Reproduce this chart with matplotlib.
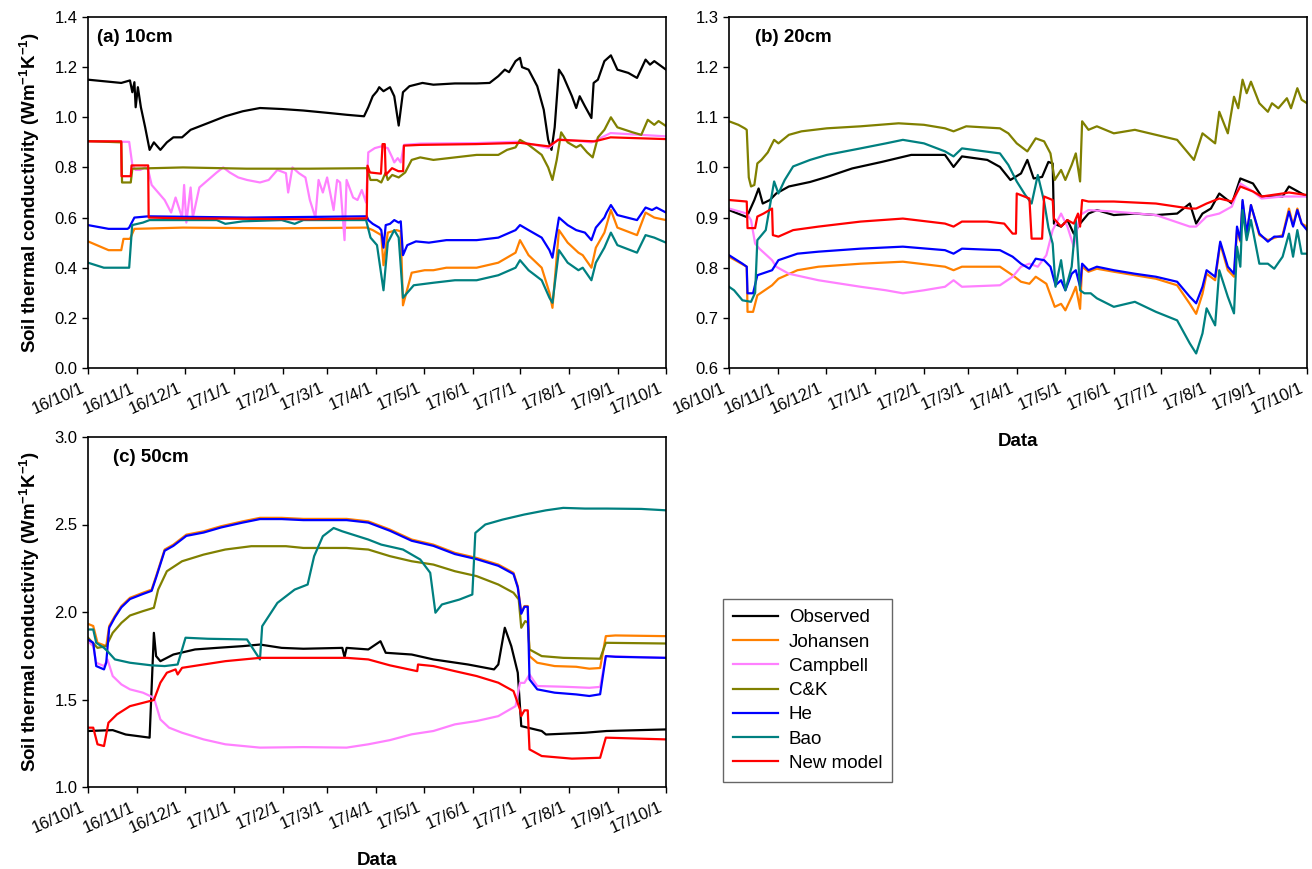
import numpy as np
import matplotlib
matplotlib.use("Agg")
import matplotlib.pyplot as plt
import matplotlib.dates as mdates
from matplotlib.transforms import ScaledTranslation
from datetime import datetime, timedelta

plt.rcParams['font.family'] = ['Liberation Sans', 'DejaVu Sans']
plt.rcParams['mathtext.fontset'] = 'custom'
plt.rcParams['mathtext.rm'] = 'Liberation Sans'
plt.rcParams['mathtext.bf'] = 'Liberation Sans:bold'

# days counted from 2016-10-01, values in W m-1 K-1
models = ["Observed", "Johansen", "Campbell", "C&K", "He", "Bao", "New model"]
colors = ["#000000", "#FF8000", "#FF80FF", "#808000", "#0000FF", "#008080", "#FF0000"]

# ---- (a) 10cm
obs_10 = [(0,1.15),(21,1.137),(26.5,1.147),(28,1.10),(29.3,1.14),(30.1,1.04),(31.5,1.12),(33.4,1.04),
          (36.1,0.96),(38.9,0.87),(41.6,0.90),(45.7,0.87),(49.8,0.90),(53.9,0.92),(59.4,0.92),(64.8,0.95),
          (75.8,0.977),(86.7,1.004),(97.7,1.024),(108.6,1.037),(122.3,1.033),(136,1.027),(152.4,1.017),
          (163.3,1.01),(174.3,1.004),(177,1.04),(179.8,1.084),(182.5,1.104),(183.9,1.12),(186.6,1.104),
          (190.7,1.12),(193.4,1.084),(196.2,0.967),(198.9,1.10),(203,1.124),(211.2,1.137),(218.1,1.13),
          (231.7,1.135),(245.4,1.135),(253.6,1.137),(259.1,1.164),(263.2,1.19),(265.9,1.18),(270,1.224),
          (272.8,1.237),(274.1,1.20),(278.2,1.19),(283.7,1.124),(287.8,1.03),(290.6,0.91),(292.7,0.87),
          (294.7,0.96),(297.4,1.19),(300.1,1.164),(305.6,1.084),(308.3,1.037),(310.5,1.084),(313.8,1.044),
          (317.9,0.997),(319.3,1.137),(322,1.15),(326.1,1.224),(330.2,1.247),(334.3,1.19),(341.2,1.177),
          (346.7,1.157),(352.1,1.23),(354.9,1.21),(357.6,1.224),(365,1.19)]
joh_10 = [(0,0.505),(13,0.47),(21,0.47),(22.4,0.515),(26.5,0.515),(29.3,0.555),(60,0.56),(120,0.557),
          (176,0.56),(179.8,0.55),(183.9,0.535),(185.2,0.53),(186.6,0.41),(189.3,0.54),(194.8,0.55),
          (197.5,0.545),(198.9,0.25),(204.4,0.38),(212.6,0.39),(218.1,0.39),(226.3,0.40),(245.4,0.40),
          (259.1,0.42),(270,0.46),(272.8,0.51),(278.2,0.45),(286.5,0.40),(291.4,0.30),(293.3,0.24),
          (297.4,0.55),(302.9,0.50),(309.7,0.46),(312.4,0.45),(317.9,0.40),(320.7,0.48),(326.1,0.54),
          (330.2,0.63),(334.3,0.56),(346.7,0.53),(352.1,0.62),(357.6,0.60),(365,0.59)]
camp_10 = [(0,0.905),(26,0.902),(28,0.81),(30,0.79),(33,0.79),(36,0.80),(38,0.79),(40.2,0.73),(48.4,0.67),
           (52.5,0.62),(55.3,0.68),(59.4,0.60),(60.7,0.73),(62.1,0.58),(64.8,0.72),(66.2,0.60),(70.3,0.72),
           (75.8,0.75),(81.3,0.78),(85.4,0.80),(89.5,0.78),(94.9,0.76),(100.4,0.75),(108.6,0.74),
           (114.1,0.75),(119.6,0.79),(125,0.777),(126.4,0.70),(129.1,0.80),(133.2,0.777),(137.3,0.76),
           (140.1,0.67),(143.6,0.60),(145.6,0.75),(148.3,0.70),(151,0.76),(155.1,0.63),(157.3,0.75),
           (159.2,0.74),(162,0.51),(163.3,0.75),(167.4,0.68),(170.2,0.67),(172.9,0.71),(175.6,0.66),
           (177,0.86),(181.1,0.877),(185.2,0.884),(189.3,0.877),(192.1,0.84),(193.4,0.82),(195.6,0.837),
           (197.5,0.82),(199.5,0.89),(210,0.895),(245,0.897),(273,0.903),(291,0.877),(297,0.913),
           (318,0.90),(330,0.937),(365,0.924)]
ck_10 = [(0,0.905),(21,0.90),(21.5,0.74),(27,0.74),(28,0.795),(60,0.80),(100,0.795),(140,0.795),
         (176,0.797),(178.4,0.75),(182.5,0.75),(185.2,0.74),(188,0.78),(189.3,0.75),(192.1,0.77),
         (196.2,0.76),(200.3,0.78),(204.4,0.83),(209.8,0.84),(218.1,0.83),(231.7,0.84),(245.4,0.85),
         (259.1,0.85),(264.6,0.87),(270,0.88),(272.8,0.91),(278.2,0.89),(286.5,0.85),(290.6,0.80),
         (293.3,0.75),(296,0.83),(298.8,0.94),(302.9,0.90),(308.3,0.88),(311.1,0.89),(315.2,0.86),
         (318.7,0.84),(322,0.92),(326.1,0.95),(330.2,1.00),(334.3,0.96),(343.9,0.94),(349.4,0.93),
         (353.5,0.99),(357.6,0.97),(360.3,0.985),(365,0.965)]
he_10 = [(0,0.57),(13,0.555),(25,0.555),(26,0.56),(29.3,0.60),(38,0.605),(100,0.60),(176,0.605),(177,0.59),
         (179.8,0.575),(183.9,0.56),(185.2,0.55),(186.6,0.48),(188,0.57),(190.7,0.575),(193.4,0.59),
         (196.2,0.58),(197.5,0.585),(198.9,0.45),(201.6,0.49),(207.1,0.505),(215.3,0.50),(226.3,0.51),
         (245.4,0.51),(259.1,0.52),(270,0.55),(272.8,0.57),(278.2,0.55),(286.5,0.52),(291.4,0.47),
         (293.3,0.44),(297.4,0.60),(302.9,0.57),(308.3,0.55),(313.8,0.54),(317.9,0.51),(320.7,0.56),
         (326.1,0.60),(327.5,0.62),(330.2,0.65),(334.3,0.61),(346.7,0.59),(352.1,0.64),(356.2,0.63),
         (359,0.64),(365,0.62)]
bao_10 = [(0,0.42),(10,0.40),(26,0.40),(27.9,0.57),(34.7,0.58),(38.9,0.59),(81.3,0.59),(86.7,0.575),
          (97.7,0.585),(122.3,0.59),(130.5,0.575),(136,0.59),(175.6,0.59),(178.4,0.52),(182.5,0.49),
          (186.6,0.31),(189.3,0.50),(193.4,0.55),(196.2,0.52),(198.9,0.28),(205.7,0.33),(218.1,0.34),
          (231.7,0.35),(245.4,0.35),(259.1,0.37),(270,0.40),(272.8,0.43),(278.2,0.39),(286.5,0.35),
          (291.4,0.28),(293.3,0.26),(297.4,0.47),(302.9,0.42),(309.7,0.39),(312.4,0.40),(317.9,0.35),
          (320.7,0.42),(326.1,0.48),(330.2,0.54),(334.3,0.49),(346.7,0.46),(352.1,0.53),(357.6,0.52),
          (365,0.50)]
new_10 = [(0,0.904),(21,0.904),(21.2,0.765),(27,0.765),(27.5,0.808),(38,0.808),(38.3,0.60),(60,0.597),
          (100,0.595),(140,0.593),(176,0.597),(176.5,0.807),(178,0.78),(185,0.775),(186,0.893),
          (187.4,0.893),(188,0.77),(192,0.797),(196,0.785),(199,0.785),(199.5,0.887),(210,0.89),
          (245,0.893),(273,0.898),(291,0.884),(297,0.91),(320,0.904),(330,0.92),(365,0.913)]

# ---- (b) 20cm
obs_20 = [(0,0.915),(11.2,0.901),(16,0.935),(18.7,0.958),(21.3,0.928),(25.8,0.935),(29.8,0.948),
          (37.8,0.962),(51.2,0.971),(61.8,0.981),(77.8,0.998),(96.5,1.011),(115.1,1.025),(136.4,1.025),
          (141.8,1.001),(147.1,1.022),(163.1,1.015),(171.1,1.001),(177.7,0.975),(184.4,0.988),
          (188.4,1.015),(192.4,0.978),(197.7,0.981),(201.7,1.011),(204.4,1.008),(205.2,0.888),
          (209.7,0.882),(213.7,0.895),(217.7,0.868),(221.7,0.888),(227,0.908),(232.3,0.915),(243,0.905),
          (256.3,0.908),(269.6,0.905),(283,0.908),(291,0.928),(295,0.888),(299,0.908),(304.3,0.918),
          (309.6,0.948),(317.6,0.928),(322.9,0.978),(330.9,0.968),(336.3,0.942),(349.6,0.942),
          (353.6,0.962),(365,0.942)]
joh_20 = [(0,0.822),(11.2,0.802),(11.7,0.712),(15.2,0.712),(17.9,0.745),(27.2,0.765),(31.2,0.778),
          (43.2,0.795),(56.5,0.802),(83.1,0.808),(109.8,0.812),(136.4,0.802),(141.8,0.795),(147.1,0.802),
          (171.1,0.802),(179.1,0.785),(184.4,0.772),(189.7,0.768),(193.7,0.782),(200.4,0.768),
          (205.7,0.722),(209.7,0.728),(212.4,0.715),(216.4,0.742),(219,0.762),(221.7,0.718),(223,0.802),
          (227,0.792),(232.3,0.798),(243,0.792),(256.3,0.785),(269.6,0.778),(283,0.765),(291,0.728),
          (295,0.708),(299,0.748),(301.6,0.788),(307,0.775),(310.2,0.848),(315,0.795),(318.9,0.782),
          (320.8,0.875),(322.9,0.852),(324.3,0.932),(326.9,0.865),(329.6,0.925),(334.9,0.865),
          (340.3,0.855),(349.6,0.865),(353.6,0.918),(356.2,0.885),(358.9,0.918),(361.6,0.888),(365,0.882)]
camp_20 = [(0,0.918),(11.2,0.908),(13.9,0.895),(16.5,0.848),(19.2,0.838),(27.2,0.815),(29.8,0.802),
           (37.8,0.788),(56.5,0.775),(83.1,0.762),(99.1,0.755),(109.8,0.749),(123.1,0.755),(136.4,0.762),
           (141.8,0.775),(147.1,0.762),(171.1,0.765),(179.1,0.782),(184.4,0.802),(189.7,0.808),
           (195,0.802),(200.4,0.825),(204.4,0.875),(209.7,0.908),(213.7,0.882),(217.7,0.842),
           (221.7,0.905),(227,0.915),(243,0.912),(269.6,0.905),(291,0.882),(295,0.882),(301.6,0.902),
           (309.6,0.908),(317.6,0.922),(322.9,0.968),(330.9,0.952),(336.3,0.938),(349.6,0.942),(365,0.942)]
ck_20 = [(0,1.092),(5.9,1.085),(9.9,1.078),(11.2,1.075),(12.5,0.98),(13.9,0.962),(16,0.965),(17.9,1.008),
         (20.5,1.015),(24.5,1.03),(28.5,1.055),(31.2,1.048),(37.8,1.065),(45.8,1.072),(61.8,1.078),
         (83.1,1.082),(107.1,1.088),(123.1,1.085),(136.4,1.078),(141.8,1.072),(149.8,1.082),(171.1,1.078),
         (176.4,1.068),(181.7,1.048),(188.4,1.032),(193.7,1.058),(199,1.052),(203,1.028),(205.7,0.975),
         (209.7,0.995),(212.4,0.975),(216.4,1.005),(219,1.028),(221.7,0.972),(223,1.092),(227,1.075),
         (232.3,1.082),(243,1.068),(256.3,1.075),(269.6,1.065),(283,1.055),(293.6,1.015),(299,1.068),
         (307,1.048),(309.6,1.111),(315,1.068),(318.9,1.141),(321.6,1.118),(324.3,1.175),(326.9,1.148),
         (329.6,1.171),(334.9,1.128),(340.3,1.111),(342.9,1.128),(346.9,1.118),(352.3,1.138),
         (354.9,1.118),(358.9,1.158),(361.6,1.135),(365,1.128)]
he_20 = [(0,0.825),(8.5,0.808),(11.2,0.802),(11.7,0.749),(15.2,0.749),(17.9,0.785),(27.2,0.795),
         (31.2,0.815),(43.2,0.828),(56.5,0.832),(83.1,0.838),(109.8,0.842),(136.4,0.835),(141.8,0.828),
         (147.1,0.838),(171.1,0.835),(179.1,0.822),(184.4,0.808),(189.7,0.798),(193.7,0.818),(199,0.815),
         (203,0.802),(206.2,0.765),(209.7,0.775),(212.4,0.755),(216.4,0.788),(219,0.795),(221.7,0.762),
         (223,0.808),(227,0.795),(232.3,0.802),(243,0.795),(256.3,0.788),(269.6,0.782),(283,0.772),
         (291,0.742),(295,0.729),(299,0.762),(301.6,0.795),(307,0.782),(310.2,0.852),(315,0.802),
         (318.9,0.788),(320.8,0.882),(322.9,0.855),(324.3,0.935),(326.9,0.868),(329.6,0.925),
         (334.9,0.868),(340.3,0.852),(344.3,0.862),(349.6,0.862),(353.6,0.912),(356.2,0.882),
         (358.9,0.915),(361.6,0.888),(365,0.875)]
bao_20 = [(0,0.762),(3.2,0.755),(8.5,0.735),(13.9,0.732),(16.5,0.75),(17.9,0.855),(23.2,0.875),
          (28.5,0.972),(31.2,0.948),(35.2,0.975),(40.5,1.002),(51.2,1.015),(61.8,1.025),(83.1,1.038),
          (99.1,1.048),(109.8,1.055),(123.1,1.048),(136.4,1.032),(141.8,1.022),(147.1,1.038),
          (171.1,1.028),(176.4,1.005),(181.7,0.972),(187.1,0.945),(191.1,0.928),(195,0.985),(199,0.932),
          (201.7,0.88),(204.4,0.848),(206.2,0.762),(209.7,0.815),(212.4,0.755),(216.4,0.802),(219,0.895),
          (221.7,0.755),(224.4,0.749),(228.4,0.749),(232.3,0.739),(243,0.722),(256.3,0.732),(269.6,0.712),
          (283,0.695),(291,0.649),(295,0.629),(299,0.669),(301.6,0.719),(307,0.685),(309.6,0.795),
          (315,0.742),(318.9,0.709),(320.8,0.842),(322.9,0.802),(324.3,0.915),(326.9,0.855),(329.6,0.895),
          (334.9,0.808),(340.3,0.808),(344.3,0.798),(349.6,0.822),(353.6,0.868),(356.2,0.822),
          (358.9,0.875),(361.6,0.828),(365,0.828)]
new_20 = [(0,0.935),(11.2,0.932),(11.7,0.879),(16.5,0.879),(17.9,0.902),(21.8,0.908),(27.2,0.918),
          (27.7,0.865),(31.2,0.862),(40.5,0.875),(56.5,0.882),(83.1,0.892),(109.8,0.898),(136.4,0.888),
          (141.8,0.882),(147.1,0.892),(163.1,0.892),(173.8,0.888),(179.1,0.868),(181.2,0.868),
          (181.7,0.948),(189.7,0.938),(191.1,0.858),(197.7,0.858),(199,0.942),(204.4,0.935),(205.2,0.898),
          (209.7,0.882),(213.7,0.895),(217.7,0.888),(220.4,0.908),(221.7,0.882),(223,0.935),(227,0.932),
          (243,0.932),(269.6,0.928),(291,0.918),(295,0.918),(301.6,0.928),(309.6,0.938),(317.6,0.932),
          (322.9,0.962),(330.9,0.952),(336.3,0.942),(349.6,0.948),(353.6,0.95),(365,0.945)]

# ---- (c) 50cm
obs_50 = [(0,1.32),(15.6,1.325),(23.8,1.30),(38.9,1.282),(41.6,1.881),(43,1.748),(45.7,1.719),
          (53.9,1.757),(67.6,1.786),(81.3,1.795),(97.7,1.805),(108.6,1.814),(122.3,1.795),(136,1.79),
          (160.6,1.795),(162,1.742),(163.3,1.795),(177,1.786),(184.7,1.833),(188,1.767),(204.4,1.757),
          (218.1,1.729),(240,1.70),(256.4,1.672),(259.1,1.70),(263.2,1.91),(267.3,1.805),(271.4,1.653),
          (273.6,1.348),(286.5,1.32),(289.2,1.30),(313.8,1.31),(327.5,1.32),(365,1.329)]
joh_50 = [(0,1.932),(3.3,1.92),(6,1.824),(11.5,1.805),(13.4,1.92),(17,1.977),(21.1,2.034),(26.5,2.081),
          (34.7,2.11),(40.2,2.128),(43,2.204),(48.4,2.357),(53.9,2.385),(62.1,2.442),(73,2.461),(84,2.49),
          (97.7,2.518),(108.6,2.538),(122.3,2.538),(136,2.532),(163.3,2.532),(177,2.518),(190.7,2.471),
          (204.4,2.414),(218.1,2.385),(231.7,2.338),(245.4,2.309),(259.1,2.271),(268.7,2.224),
          (271.4,2.147),(273.6,1.996),(275.6,2.034),(277.7,2.034),(278.8,1.748),(283.7,1.71),
          (294.7,1.691),(308.3,1.687),(316.6,1.676),(323.4,1.68),(327,1.862),(333,1.866),(365,1.862)]
camp_50 = [(0,1.833),(3.3,1.805),(5.2,1.71),(10.1,1.691),(12.3,1.729),(15.6,1.634),(21.1,1.586),
           (26.5,1.558),(34.7,1.539),(41.6,1.51),(45.7,1.386),(51.2,1.339),(59.4,1.31),(73,1.272),
           (86.7,1.244),(108.6,1.225),(136,1.228),(163.3,1.225),(177,1.244),(190.7,1.268),(204.4,1.301),
           (218.1,1.32),(231.7,1.358),(245.4,1.377),(259.1,1.405),(270,1.462),(272.8,1.595),(275.6,1.595),
           (278.8,1.643),(283.7,1.577),(300.1,1.573),(316.6,1.567),(323.4,1.572),(327,1.748),(365,1.738)]
ck_50 = [(0,1.853),(6,1.795),(11.5,1.805),(15.6,1.881),(21.1,1.938),(26.5,1.98),(34.7,2.005),(41.6,2.024),
         (44.3,2.128),(49.8,2.233),(59.4,2.29),(73,2.328),(86.7,2.357),(103.1,2.376),(125,2.376),(136,2.366),
         (163.3,2.366),(177,2.357),(190.7,2.319),(204.4,2.29),(218.1,2.271),(231.7,2.233),(245.4,2.205),
         (259.1,2.157),(268.7,2.11),(272,2.072),(273.6,1.91),(276.1,1.948),(277.7,1.94),(278.8,1.786),
         (286.5,1.748),(300.1,1.738),(323.4,1.733),(327,1.824),(365,1.82)]
he_50 = [(0,1.843),(3.3,1.824),(5.2,1.691),(10.1,1.672),(11.5,1.71),(13.4,1.91),(17,1.97),(21.1,2.027),
         (26.5,2.074),(34.7,2.103),(40.2,2.121),(43,2.197),(48.4,2.35),(53.9,2.378),(62.1,2.435),
         (73,2.454),(84,2.483),(97.7,2.511),(108.6,2.531),(122.3,2.531),(136,2.525),(163.3,2.525),
         (177,2.511),(190.7,2.464),(204.4,2.407),(218.1,2.378),(231.7,2.331),(245.4,2.302),(259.1,2.264),
         (268.7,2.217),(271.4,2.14),(273.6,1.99),(275.6,2.03),(277.7,2.03),(278.8,1.615),(283.7,1.558),
         (294.7,1.539),(308.3,1.529),(316.6,1.52),(323.4,1.53),(327,1.748),(333,1.744),(365,1.738)]
bao_50 = [(0,1.9),(3.3,1.9),(5.2,1.824),(10.1,1.795),(12.3,1.776),(17,1.729),(26.5,1.71),(40.2,1.695),
          (48.4,1.691),(56.6,1.70),(61.6,1.853),(75.8,1.847),(100.4,1.843),(108.6,1.729),(110,1.919),
          (119.6,2.052),(130.5,2.128),(138.7,2.157),(142.8,2.319),(148.3,2.433),(155.1,2.48),
          (160.6,2.461),(177,2.414),(185.2,2.385),(198.9,2.357),(209.8,2.3),(216.1,2.224),(219.4,1.996),
          (223.5,2.043),(234.5,2.071),(242.7,2.1),(244.6,2.452),(250.9,2.5),(261.8,2.528),(275.5,2.557),
          (289.2,2.581),(300.1,2.595),(313.8,2.591),(327.5,2.591),(349.4,2.589),(365,2.581)]
new_50 = [(0,1.339),(3.3,1.339),(6,1.244),(10.1,1.234),(12.9,1.367),(18.3,1.415),(26.5,1.462),
          (34.7,1.481),(41.6,1.497),(45.7,1.596),(49.8,1.653),(55.3,1.672),(56.6,1.643),(59.4,1.681),
          (73,1.70),(86.7,1.719),(108.6,1.738),(136,1.738),(163.3,1.738),(177,1.729),(190.7,1.695),
          (207.9,1.662),(208.4,1.70),(218.1,1.691),(231.7,1.662),(245.4,1.634),(259.1,1.596),
          (268.7,1.548),(272.8,1.443),(273.6,1.405),(275.6,1.438),(277.7,1.438),(278.8,1.215),
          (286.5,1.177),(305.6,1.162),(323.4,1.167),(327,1.282),(365,1.272)]

panel_a = [obs_10, joh_10, camp_10, ck_10, he_10, bao_10, new_10]
panel_b = [obs_20, joh_20, camp_20, ck_20, he_20, bao_20, new_20]
panel_c = [obs_50, joh_50, camp_50, ck_50, he_50, bao_50, new_50]

start = datetime(2016, 10, 1)
end = datetime(2017, 10, 1)


def to_dates(series):
    d = [start + timedelta(days=p[0]) for p in series]
    v = [p[1] for p in series]
    return d, v


def fmt_date(x, pos):
    d = mdates.num2date(x)
    return f"{d.year % 100}/{d.month}/{d.day}"


ylab = r'Soil thermal conductivity (Wm$^{\mathbf{-1}}$K$^{\mathbf{-1}}$)'


def draw(ax, series_list, ylim, yticks, title, tx, ylabel=False, xlabel=False):
    for s, name, c in zip(series_list, models, colors):
        d, v = to_dates(s)
        ax.plot(d, v, color=c, lw=1.6, label=name)
    ax.set_xlim(start, end)
    ax.set_ylim(*ylim)
    ax.set_yticks(yticks)
    ax.yaxis.set_major_formatter(plt.FormatStrFormatter('%.1f'))
    ax.xaxis.set_major_locator(mdates.MonthLocator())
    ax.xaxis.set_major_formatter(plt.FuncFormatter(fmt_date))
    ax.tick_params(direction='out', length=4, width=1, labelsize=12)
    ax.tick_params(axis='x', pad=5)
    for lab in ax.get_xticklabels():
        lab.set_rotation(24)
        lab.set_ha('right')
        lab.set_rotation_mode('anchor')
        lab.set_transform(lab.get_transform() + ScaledTranslation(-5/72, 0, ax.figure.dpi_scale_trans))
    for sp in ax.spines.values():
        sp.set_linewidth(1.2)
    ax.text(tx, 0.965, title, transform=ax.transAxes, va='top', ha='left',
            fontsize=13.5, fontweight='bold')
    if ylabel:
        ax.set_ylabel(ylab, fontsize=13.5, fontweight='bold', labelpad=9)
    if xlabel:
        ax.set_xlabel('Data', fontsize=13.5, fontweight='bold', labelpad=12)


fig = plt.figure(figsize=(13.12, 8.69), dpi=100)
W, H = 1312, 869
ax_a = fig.add_axes([88/W, 1-368/H, 578/W, 351/H])
ax_b = fig.add_axes([729/W, 1-368/H, 578/W, 351/H])
ax_c = fig.add_axes([88/W, 1-787/H, 578/W, 350/H])

draw(ax_a, panel_a, (0.0, 1.4), np.arange(0, 1.41, 0.2), '(a) 10cm', 0.016, ylabel=True)
draw(ax_b, panel_b, (0.6, 1.3), np.arange(0.6, 1.31, 0.1), '(b) 20cm', 0.045, xlabel=True)
draw(ax_c, panel_c, (1.0, 3.0), np.arange(1.0, 3.01, 0.5), '(c) 50cm', 0.043, ylabel=True, xlabel=True)

handles, labels = ax_c.get_legend_handles_labels()
leg = fig.legend(handles, labels, loc='upper left', bbox_to_anchor=(723/W, 1-599/H),
                 borderaxespad=0, fontsize=13.5, frameon=True, fancybox=False, edgecolor='#404040',
                 handlelength=2.4, handletextpad=0.55, labelspacing=0.38, borderpad=0.55)
leg.get_frame().set_linewidth(1.0)

fig.savefig('out.png', dpi=100)
